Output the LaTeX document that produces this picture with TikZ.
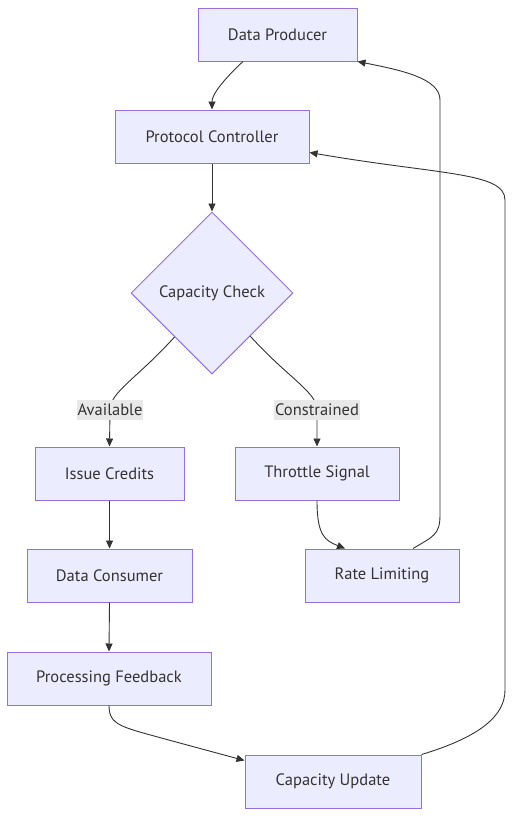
\documentclass[tikz,border=0pt]{standalone}
\usepackage{fontspec}
\setmainfont{PT Sans}
\usetikzlibrary{arrows.meta,shapes.geometric,calc}
\definecolor{nodefill}{HTML}{ECECFF}
\definecolor{nodeline}{HTML}{9370DB}
\definecolor{edgeline}{HTML}{333333}
\definecolor{labelbg}{HTML}{E8E8E8}
\tikzset{
  box/.style={draw=nodeline, fill=nodefill, line width=1pt, minimum height=53pt, inner sep=0pt, text=edgeline, font=\fontsize{16.5pt}{19pt}\selectfont},
  decision/.style={draw=nodeline, fill=nodefill, line width=1pt, diamond, minimum width=162pt, minimum height=162pt, inner sep=0pt, text=edgeline, font=\fontsize{16.5pt}{19pt}\selectfont},
  elabel/.style={fill=labelbg, inner xsep=1pt, minimum height=20pt, text=edgeline, font=\fontsize{16.5pt}{19pt}\selectfont},
  flow/.style={draw=edgeline, line width=0.9pt, -{Triangle[length=8pt,width=7pt]}},
}
\begin{document}
\begin{tikzpicture}[x=1pt,y=-1pt]
\useasboundingbox (0,0) rectangle (522,828);
\node[box, minimum width=159pt] (prod) at (277.5,34.5) {Data Producer};
\node[box, minimum width=194pt] (ctrl) at (212,136.5) {Protocol Controller};
\node[decision] (check) at (212,293) {Capacity Check};
\node[box, minimum width=149pt] (issue) at (109.5,473.5) {Issue Credits};
\node[box, minimum width=164pt] (thr) at (317,473.5) {Throttle Signal};
\node[box, minimum width=165pt] (cons) at (109.5,575.5) {Data Consumer};
\node[box, minimum width=154pt] (rate) at (382,575.5) {Rate Limiting};
\node[box, minimum width=204pt] (feed) at (109,678.5) {Processing Feedback};
\node[box, minimum width=176pt] (upd) at (333,781.5) {Capacity Update};

\coordinate (lblA) at (110,410);
\coordinate (lblC) at (317,410);
\coordinate (outL) at ($(check.west)!0.54!(check.south)$);
\coordinate (outR) at ($(check.south)!0.47!(check.east)$);

\draw[flow] ([xshift=-34.5pt]prod.south) .. controls +(0,0) and +(0,-20) .. (ctrl.north);
\draw[flow] (ctrl.south) -- (check.north);
\draw[flow] (outL) .. controls +(-38,42) and +(0,-18) .. (lblA) -- (issue.north);
\draw[flow] (outR) .. controls +(38,42) and +(0,-18) .. (lblC) -- (thr.north);
\draw[flow] (issue.south) -- (cons.north);
\draw[flow] (thr.south) .. controls +(0,35) and +(-20,-8) .. ([xshift=-37pt]rate.north);
\draw[flow] (cons.south) -- (feed.north);
\draw[flow] (feed.south) .. controls +(0,20) and (122,727) .. (165,739) -- ([yshift=21pt]upd.west);
\draw[flow] ([xshift=31pt]rate.north) .. controls +(20,-12) and +(0,20) .. (440,515) -- (440,100) .. controls (440,78) and (400,70) .. (prod.south east);
\draw[flow] (upd.north east) .. controls +(60,-18) and +(0,25) .. (505,690) -- (505,200) .. controls (505,172) and (440,175) .. ([yshift=-16pt]ctrl.east);

\node[elabel] (la) at (lblA) {Available};
\node[elabel] (lc) at (lblC) {Constrained};
\end{tikzpicture}
\end{document}
